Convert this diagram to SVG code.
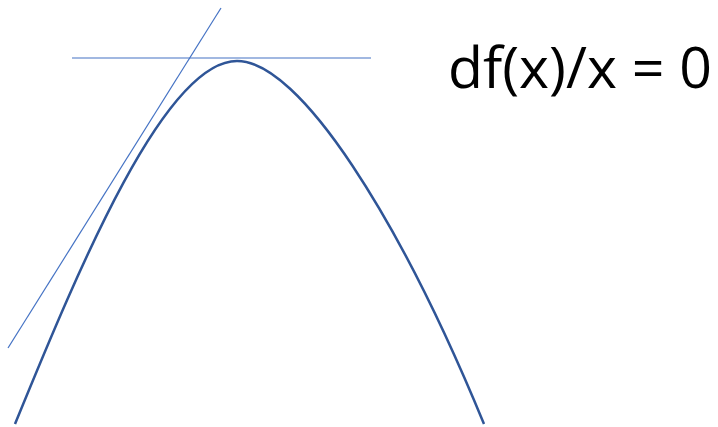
<svg xmlns="http://www.w3.org/2000/svg" width="718" height="427" viewBox="0 0 718 427">
<style>
.tan{stroke:#4472C4;stroke-width:1.2;fill:none}
.curve{stroke:#2F5597;stroke-width:2.5;fill:none}
.lbl{font-family:"Open Sans","Liberation Sans",sans-serif;font-size:57px;fill:#000}
</style>
<rect width="718" height="427" fill="#fff"/>
<g id="curve"><path class="curve" d="M15,424 C80,265 165,61 237,61 C300,61 400,220 484,424"/></g>
<g id="connectors">
<line class="tan" x1="72" y1="58" x2="371" y2="58"/>
<line class="tan" x1="8" y1="348" x2="221" y2="8"/>
</g>
<g id="label"><text class="lbl" x="448" y="88" textLength="264" lengthAdjust="spacingAndGlyphs">df(x)/x = 0</text></g>
</svg>
